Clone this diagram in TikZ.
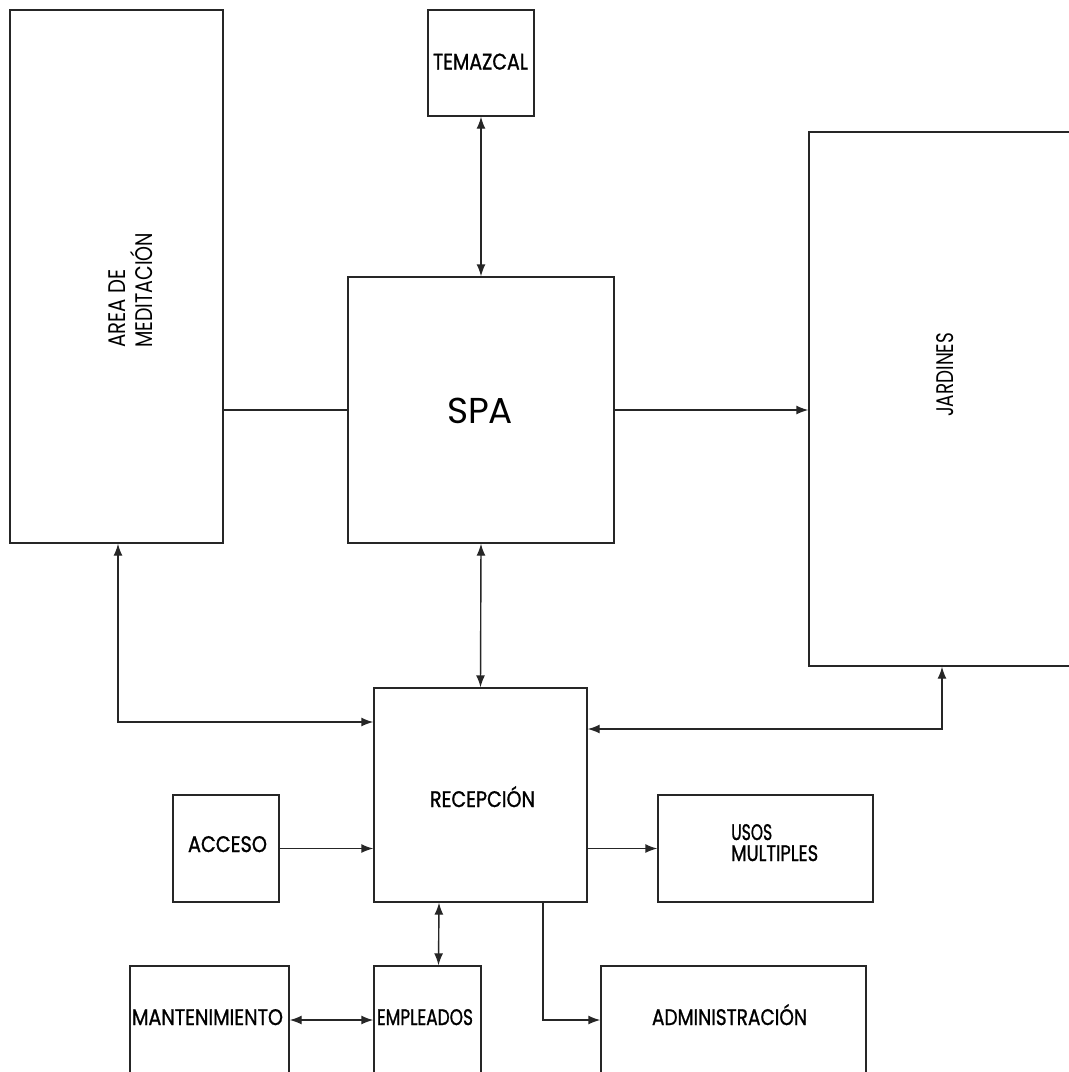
\documentclass[tikz,border=0pt]{standalone}
\usepackage{fontspec}
\usepackage{graphicx}
\setmainfont{Poppins}
\newfontfamily\heavyfont{Poppins}[FakeBold=1.2]
\usetikzlibrary{arrows.meta}
\newcommand\fitw[2]{\resizebox{#1pt}{\height}{#2}}
\begin{document}
\begin{tikzpicture}[x=1pt,y=-1pt,
  box/.style={draw=black!85,line width=1.4pt,rectangle,inner sep=0pt},
  wire/.style={draw=black!85,line width=1.4pt},
  tipA/.style={-{Latex[length=12pt,width=9pt]}},
  tipB/.style={{Latex[length=12pt,width=9pt]}-{Latex[length=12pt,width=9pt]}},
  lbl/.style={inner sep=0pt,font=\heavyfont\fontsize{22.5}{23}\selectfont},
  vlbl/.style={inner sep=0pt,rotate=90,anchor=base west,font=\fontsize{24}{25}\selectfont}]
\clip (0,0) rectangle (1069,1072);
\fill[white] (0,0) rectangle (1069,1072);
% boxes
\node[box,minimum width=213pt,minimum height=533pt] (area) at (116.5,276.5) {};
\node[box,minimum width=106pt,minimum height=106pt] (tem) at (481,63) {};
\node[box,minimum width=266pt,minimum height=266pt] (spa) at (481,410) {};
\node[box,minimum width=400pt,minimum height=534pt] (jar) at (1009,399) {};
\node[box,minimum width=213pt,minimum height=214pt] (rec) at (480.5,795) {};
\node[box,minimum width=106pt,minimum height=107pt] (acc) at (226,848.5) {};
\node[box,minimum width=215pt,minimum height=107pt] (usos) at (765.5,848.5) {};
\node[box,minimum width=159pt,minimum height=108pt] (mant) at (209.5,1020) {};
\node[box,minimum width=107pt,minimum height=108pt] (emp) at (427.5,1020) {};
\node[box,minimum width=265pt,minimum height=108pt] (adm) at (733.5,1020) {};
% labels
\node[vlbl] (areaA) at (125,348) {\fitw{78}{AREA DE}};
\node[vlbl] (areaB) at (152,348) {\fitw{115}{MEDITACIÓN}};
\node[vlbl] (jarL) at (953,417) {\fitw{84}{JARDINES}};
\node[inner sep=0pt,anchor=base,font=\fontsize{36}{40}\selectfont] (spaL) at (480,423.5) {\fitw{66}{SPA}};
\node[lbl,anchor=base] (temL) at (480.5,69.5) {\fitw{95}{TEMAZCAL}};
\node[lbl,anchor=base] (recL) at (482.5,807) {\fitw{105}{RECEPCIÓN}};
\node[lbl,anchor=base] (accL) at (227.5,852) {\fitw{79}{ACCESO}};
\node[lbl,anchor=base west] (usosA) at (731,840) {\fitw{41}{USOS}};
\node[lbl,anchor=base west] (usosB) at (731,861) {\fitw{87}{MULTIPLES}};
\node[lbl,anchor=base] (mantL) at (207.5,1025) {\fitw{151}{MANTENIMIENTO}};
\node[lbl,anchor=base] (empL) at (425,1025) {\fitw{96}{EMPLEADOS}};
\node[lbl,anchor=base] (admL) at (729.5,1025) {\fitw{155}{ADMINISTRACIÓN}};
% connectors
\draw[wire,tipB] (tem.south) -- (spa.north);
\draw[wire] (spa.west -| area.east) -- (spa.west);
\draw[wire,tipA] (spa.east) -- (spa.east -| jar.west);
\draw[wire,tipB] (spa.south) -- (rec.north);
\draw[wire,tipB] ([xshift=1.5pt]area.south) |- ([yshift=73pt]rec.west);
\draw[wire,tipB] ([xshift=-67pt]jar.south) |- ([yshift=66pt]rec.east);
\draw[wire,tipA] (acc.east) -- (acc.east -| rec.west);
\draw[wire,tipA] (usos.west -| rec.east) -- (usos.west);
\draw[wire,tipB] ([xshift=-41.5pt]rec.south) -- ([xshift=11pt]emp.north);
\draw[wire,tipA] ([xshift=62.5pt]rec.south) |- (adm.west);
\draw[wire,tipB] (mant.east) -- (emp.west);
\end{tikzpicture}
\end{document}
